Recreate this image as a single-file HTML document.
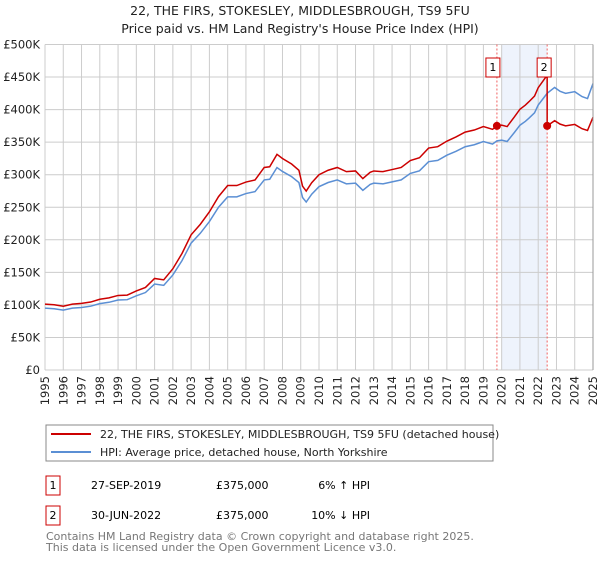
<!DOCTYPE html>
<html><head><meta charset="utf-8"><style>
body{margin:0;background:#fff;font-family:"Liberation Sans","DejaVu Sans",sans-serif;}
svg text{font-family:"DejaVu Sans","Liberation Sans",sans-serif;}
</style></head><body>
<svg id="c" width="600" height="560" xmlns="http://www.w3.org/2000/svg">
<text x="300" y="15" text-anchor="middle" font-size="12.5" fill="#222">22, THE FIRS, STOKESLEY, MIDDLESBROUGH, TS9 5FU</text>
<text x="300" y="33" text-anchor="middle" font-size="12.5" fill="#222">Price paid vs. HM Land Registry's House Price Index (HPI)</text>
<g id="grid"></g><g id="plot"></g>
<rect x="46" y="425" width="447" height="36" fill="#fff" stroke="#888"/>
<line x1="51" y1="434" x2="91" y2="434" stroke="#cc0000" stroke-width="2"/>
<text x="100" y="438" font-size="11" fill="#222">22, THE FIRS, STOKESLEY, MIDDLESBROUGH, TS9 5FU (detached house)</text>
<line x1="51" y1="452" x2="91" y2="452" stroke="#5b8fd4" stroke-width="2"/>
<text x="100" y="456" font-size="11" fill="#222">HPI: Average price, detached house, North Yorkshire</text>
<rect x="46" y="476" width="14" height="19" fill="#fff" stroke="#cc0000"/>
<text x="53" y="489" text-anchor="middle" font-size="11">1</text>
<text x="91" y="489" font-size="11">27-SEP-2019</text>
<text x="216" y="489" font-size="11">£375,000</text>
<text x="370" y="489" text-anchor="end" font-size="11">6% ↑ HPI</text>
<rect x="46" y="506" width="14" height="19" fill="#fff" stroke="#cc0000"/>
<text x="53" y="519" text-anchor="middle" font-size="11">2</text>
<text x="91" y="519" font-size="11">30-JUN-2022</text>
<text x="216" y="519" font-size="11">£375,000</text>
<text x="370" y="519" text-anchor="end" font-size="11">10% ↓ HPI</text>
<text x="46" y="540" font-size="11" fill="#777">Contains HM Land Registry data © Crown copyright and database right 2025.</text>
<text x="46" y="551" font-size="11" fill="#777">This data is licensed under the Open Government Licence v3.0.</text>
</svg>
<script>
const hpiYears=[1995,1995.5,1996,1996.5,1997,1997.5,1998,1998.5,1999,1999.5,2000,2000.5,2001,2001.5,2002,2002.5,2003,2003.5,2004,2004.5,2005,2005.5,2006,2006.5,2007,2007.3,2007.7,2008,2008.5,2008.9,2009.1,2009.3,2009.6,2010,2010.5,2011,2011.5,2012,2012.4,2012.8,2013,2013.5,2014,2014.5,2015,2015.5,2016,2016.5,2017,2017.5,2018,2018.5,2019,2019.5,2019.74,2020,2020.3,2020.7,2021,2021.3,2021.5,2021.8,2022,2022.3,2022.49,2022.9,2023.2,2023.5,2024,2024.4,2024.7,2025];
const hpiValues=[95,94,92,95,96,98,102,104,107.5,108,114,119,132,130,146,168,195,210,228,250,266,266,271,274,292,293,311,305,297,288,265,258,270,281.6,288,292,286,287,276,285,287,286,289,292,302,306,320,322,330,336,343,346,351,347,352,353,351,365,376,382,387,395,407,418,425,434,428,425,427.5,420,417,440];
const saleYears=[2019.74,2022.49];
const salePrices=[375,375];
const yTicks=[0,50,100,150,200,250,300,350,400,450,500];
const yLabels=["£0","£50K","£100K","£150K","£200K","£250K","£300K","£350K","£400K","£450K","£500K"];
const xTicks=[1995,1996,1997,1998,1999,2000,2001,2002,2003,2004,2005,2006,2007,2008,2009,2010,2011,2012,2013,2014,2015,2016,2017,2018,2019,2020,2021,2022,2023,2024,2025];
const NS="http://www.w3.org/2000/svg";
const X0=45,X1=593,Y0=370,Y1=44.5;
const xs=y=>X0+(y-1995)/30*(X1-X0);
const ys=v=>Y0-v/500*(Y0-Y1);
function mk(t,a,p){const e=document.createElementNS(NS,t);for(const k in a)e.setAttribute(k,a[k]);p.appendChild(e);return e;}
const grid=document.getElementById('grid'),plot=document.getElementById('plot');
let sh=mk('rect',{x:xs(2020),y:Y1,width:xs(saleYears[1])-xs(2020),height:Y0-Y1,fill:'#eef3fc'},grid);


yTicks.forEach((v,i)=>{
 let l=mk('line',{x1:X0,x2:X1,y1:ys(v),y2:ys(v),stroke:'#ccc'},grid);
 
 
 let t=mk('text',{x:X0-5,y:ys(v)+4,'text-anchor':'end','font-size':'11.5',fill:'#222'},grid);
 t.textContent=yLabels[i];
 
 
});
xTicks.forEach(y=>{
 let l=mk('line',{x1:xs(y),x2:xs(y),y1:Y1,y2:Y0,stroke:'#ccc'},grid);
 
 
 let t=mk('text',{x:0,y:0,'text-anchor':'end','font-size':'11.5',fill:'#222',transform:`translate(${xs(y)+4},376) rotate(-90)`},grid);
 t.textContent=y;
 
 
});
function hpiAt(y){for(let i=1;i<hpiYears.length;i++){if(y<=hpiYears[i]){const f=(y-hpiYears[i-1])/(hpiYears[i]-hpiYears[i-1]);return hpiValues[i-1]+f*(hpiValues[i]-hpiValues[i-1]);}}return hpiValues[hpiValues.length-1];}
saleYears.forEach((y,i)=>{
 let l=mk('line',{x1:xs(y),x2:xs(y),y1:Y1,y2:Y0,stroke:'#f06060','stroke-dasharray':'2,2'},grid);
 
 
});
let hp=hpiYears.map((y,i)=>xs(y)+','+ys(hpiValues[i])).join(' ');
let hl=mk('polyline',{points:hp,fill:'none',stroke:'#5b8fd4','stroke-width':1.5},plot);


let pts=[];
hpiYears.forEach((y,i)=>{
 let k;
 if(y<saleYears[1]) k=salePrices[0]/hpiAt(saleYears[0]);
 else k=salePrices[1]/hpiAt(saleYears[1]);
 if(y===saleYears[1]) pts.push(xs(y)+','+ys(hpiValues[i]*salePrices[0]/hpiAt(saleYears[0])));
 pts.push(xs(y)+','+ys(hpiValues[i]*k));
});
let rl=mk('polyline',{points:pts.join(' '),fill:'none',stroke:'#cc0000','stroke-width':1.5},plot);


saleYears.forEach((y,i)=>{
 let c=mk('circle',{cx:xs(y),cy:ys(salePrices[i]),r:4,fill:'#cc0000'},plot);
 
 
 const off=i==0?-4:-3;
 let b=mk('rect',{x:xs(y)-7+off,y:58,width:14,height:19,fill:'#fff',stroke:'#cc0000'},plot);
 
 
 let t=mk('text',{x:xs(y)+off,y:71,'text-anchor':'middle','font-size':'11'},plot);
 t.textContent=String(i+1);
 
 
});
let ax=mk('line',{x1:X1,x2:X1,y1:Y1,y2:Y0,stroke:'#999'},plot);


</script>
</body></html>
